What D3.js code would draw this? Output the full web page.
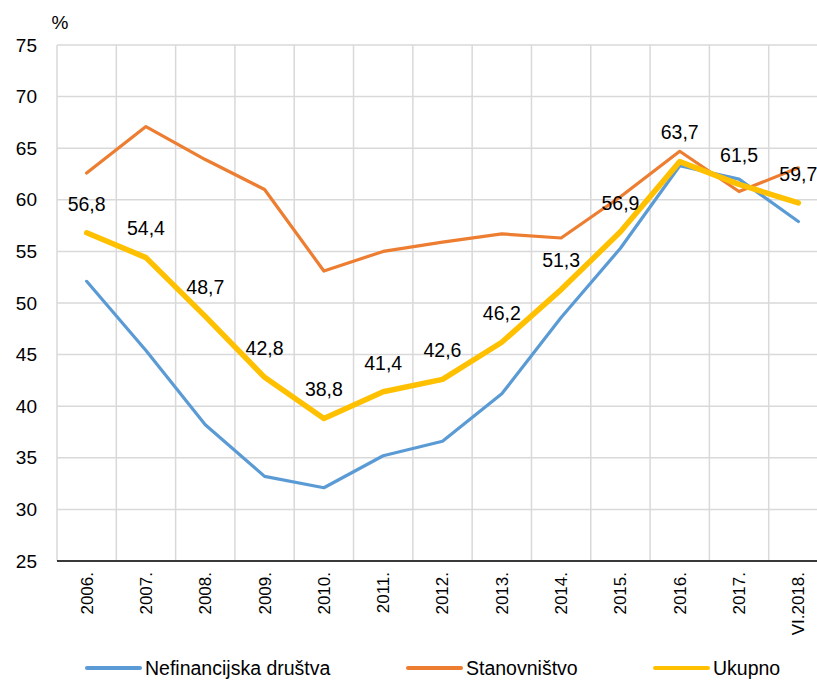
<!DOCTYPE html>
<html>
<head>
<meta charset="utf-8">
<script src="https://cdnjs.cloudflare.com/ajax/libs/d3/7.8.5/d3.min.js"></script>
<style>
  body { margin: 0; background: #fff; }
  text { font-family: "Liberation Sans", Arial, sans-serif; fill: #000; }
</style>
</head>
<body>
<div id="chart"></div>
<script>
// Dimensiones
const width = 817;
const height = 680;

// Datos
const years = ["2006.", "2007.", "2008.", "2009.", "2010.", "2011.", "2012.",
               "2013.", "2014.", "2015.", "2016.", "2017.", "VI.2018."];
const nefinancijska = [52.1, 45.4, 38.2, 33.2, 32.1, 35.2, 36.6, 41.2, 48.6, 55.3, 63.3, 62.0, 57.9];
const stanovnistvo  = [62.6, 67.1, 63.9, 61.0, 53.1, 55.0, 55.9, 56.7, 56.3, 60.3, 64.7, 60.8, 63.1];
const ukupno        = [56.8, 54.4, 48.7, 42.8, 38.8, 41.4, 42.6, 46.2, 51.3, 56.9, 63.7, 61.5, 59.7];
const yTicks = [25, 30, 35, 40, 45, 50, 55, 60, 65, 70, 75];
const seriesNames = ["Nefinancijska društva", "Stanovništvo", "Ukupno"];

// Área del gráfico (la derecha queda recortada como en el original)
const plotLeft = 57, plotRight = 828, plotTop = 45, plotBottom = 561;

const x = d3.scaleBand().domain(years).range([plotLeft, plotRight]).padding(0);
const y = d3.scaleLinear().domain([25, 75]).range([plotBottom, plotTop]);

const svg = d3.select("#chart").append("svg")
  .attr("width", width)
  .attr("height", height);

// Rejilla horizontal
svg.append("g")
  .selectAll("line")
  .data(yTicks)
  .join("line")
  .attr("x1", plotLeft).attr("x2", width)
  .attr("y1", d => y(d)).attr("y2", d => y(d))
  .attr("stroke", "#d9d9d9")
  .attr("stroke-width", 1.5);

// Rejilla vertical (entre categorías)
svg.append("g")
  .selectAll("line")
  .data(years)
  .join("line")
  .attr("x1", d => x(d)).attr("x2", d => x(d))
  .attr("y1", plotTop).attr("y2", plotBottom)
  .attr("stroke", "#d9d9d9")
  .attr("stroke-width", 1.5);

// Eje X
svg.append("line")
  .attr("x1", plotLeft).attr("x2", width)
  .attr("y1", plotBottom).attr("y2", plotBottom)
  .attr("stroke", "#000")
  .attr("stroke-width", 1.5);

// Etiquetas del eje Y
svg.append("g")
  .selectAll("text")
  .data(yTicks)
  .join("text")
  .attr("x", 37)
  .attr("y", d => y(d))
  .attr("dy", "0.35em")
  .attr("text-anchor", "end")
  .attr("font-size", 19)
  .text(d => d);

svg.append("text")
  .attr("x", 60).attr("y", 22)
  .attr("dy", "0.35em")
  .attr("text-anchor", "middle")
  .attr("font-size", 19)
  .text("%");

// Etiquetas del eje X (rotadas)
svg.append("g")
  .selectAll("text")
  .data(years)
  .join("text")
  .attr("transform", d => `translate(${x(d) + x.bandwidth() / 2},572) rotate(-90)`)
  .attr("dy", "0.35em")
  .attr("text-anchor", "end")
  .attr("font-size", 17)
  .text(d => d);

// Líneas
const line = d3.line()
  .x((d, i) => x(years[i]) + x.bandwidth() / 2)
  .y(d => y(d));

const series = [
  { values: nefinancijska, color: "#5b9bd5", width: 3.2 },
  { values: stanovnistvo,  color: "#ed7d31", width: 3.2 },
  { values: ukupno,        color: "#ffc000", width: 5.5 }
];

series.forEach(s => {
  svg.append("path")
    .datum(s.values)
    .attr("fill", "none")
    .attr("stroke", s.color)
    .attr("stroke-width", s.width)
    .attr("stroke-linejoin", "round")
    .attr("stroke-linecap", "round")
    .attr("d", line);
});

// Etiquetas de datos de "Ukupno"
svg.append("g")
  .selectAll("text")
  .data(ukupno)
  .join("text")
  .attr("x", (d, i) => x(years[i]) + x.bandwidth() / 2)
  .attr("y", d => y(d) - 29)
  .attr("dy", "0.35em")
  .attr("text-anchor", "middle")
  .attr("font-size", 19.5)
  .text(d => d.toFixed(1).replace(".", ","));

// Leyenda
const legendX = [87, 408, 655];
const legend = svg.append("g")
  .selectAll("g")
  .data(seriesNames)
  .join("g")
  .attr("transform", (d, i) => `translate(${legendX[i]},668)`);

legend.append("line")
  .attr("x1", 0).attr("x2", 53)
  .attr("stroke", (d, i) => series[i].color)
  .attr("stroke-width", 4)
  .attr("stroke-linecap", "round");

legend.append("text")
  .attr("x", 58)
  .attr("dy", "0.35em")
  .attr("font-size", 19.5)
  .text(d => d);
</script>
</body>
</html>
